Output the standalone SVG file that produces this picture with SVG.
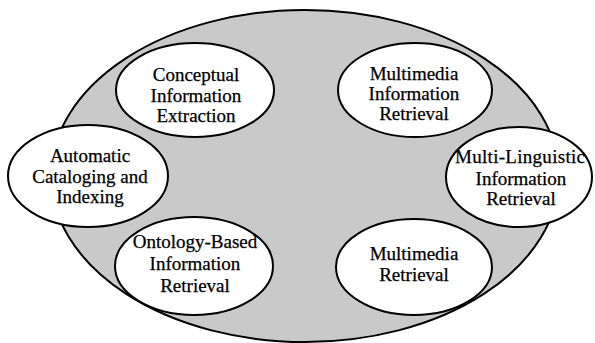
<svg xmlns="http://www.w3.org/2000/svg" width="595" height="343" viewBox="0 0 595 343">
<style>
.big{fill:#c9c9c9;stroke:#000;stroke-width:2}
.n{fill:#fff;stroke:#000;stroke-width:2}
text{font-family:"Liberation Serif","Times New Roman",serif;font-size:19px;fill:#000;stroke:#000;stroke-width:0.25;text-anchor:middle}
</style>
<rect width="595" height="343" fill="#fff"/>
<g id="container"><ellipse class="big" cx="305" cy="176" rx="254" ry="166"/></g>
<g id="connectors"></g>
<g id="n-conceptual">
<ellipse class="n" cx="195" cy="90" rx="79" ry="47"/>
<text x="196" y="81">Conceptual</text>
<text x="196" y="102">Information</text>
<text x="196" y="122">Extraction</text>
</g>
<g id="n-mm-info">
<ellipse class="n" cx="415" cy="90" rx="77" ry="47"/>
<text x="414" y="80">Multimedia</text>
<text x="414" y="100">Information</text>
<text x="414" y="120">Retrieval</text>
</g>
<g id="n-automatic">
<ellipse class="n" cx="88" cy="176" rx="80" ry="51"/>
<text x="90" y="162">Automatic</text>
<text x="90" y="183">Cataloging and</text>
<text x="90" y="203">Indexing</text>
</g>
<g id="n-multilingual">
<ellipse class="n" cx="519" cy="177" rx="73" ry="50"/>
<text x="520" y="163" textLength="130" lengthAdjust="spacing">Multi-Linguistic</text>
<text x="521" y="185">Information</text>
<text x="521" y="205">Retrieval</text>
</g>
<g id="n-ontology">
<ellipse class="n" cx="194" cy="266" rx="79" ry="49"/>
<text x="195" y="248">Ontology-Based</text>
<text x="195" y="270">Information</text>
<text x="195" y="292">Retrieval</text>
</g>
<g id="n-mm-retrieval">
<ellipse class="n" cx="414" cy="267" rx="78" ry="48"/>
<text x="414" y="260">Multimedia</text>
<text x="414" y="281">Retrieval</text>
</g>
</svg>
